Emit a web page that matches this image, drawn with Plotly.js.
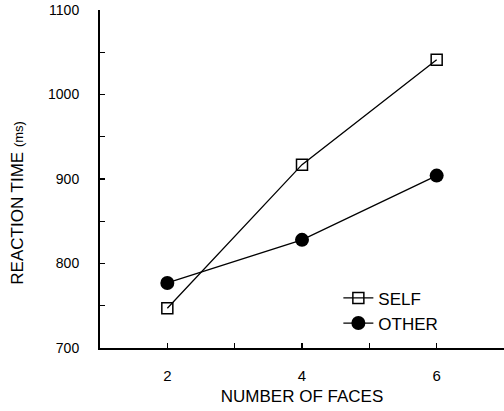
<!DOCTYPE html>
<html>
<head>
<meta charset="utf-8">
<script src="https://cdn.plot.ly/plotly-3.0.1.min.js"></script>
<style>html,body{margin:0;padding:0;background:#fff;}#chart{width:504px;height:411px;}</style>
</head>
<body>
<div id="chart"></div>
<script>
var faces = [2, 4, 6];
var selfRT = [747, 917, 1041];
var otherRT = [777, 828, 904];
var xTickVals = [2, 3, 4, 5, 6];
var xTickText = ['2', '', '4', '', '6'];
var yTickVals = [700, 750, 800, 850, 900, 950, 1000, 1050, 1100];
var yTickText = ['700', '', '800', '', '900', '', '1000', '', '1100'];

var FONT = 'Liberation Sans, Arial, sans-serif';

var traces = [
  {
    x: faces, y: selfRT, name: 'SELF', type: 'scatter', mode: 'lines+markers',
    line: {color: '#000', width: 1.3},
    marker: {symbol: 'square-open', size: 11, color: '#000', line: {width: 1.5, color: '#000'}}
  },
  {
    x: faces, y: otherRT, name: 'OTHER', type: 'scatter', mode: 'lines+markers',
    line: {color: '#000', width: 1.3},
    marker: {symbol: 'circle', size: 14, color: '#000'}
  }
];

var layout = {
  width: 504, height: 411,
  margin: {l: 100, r: 0, t: 10, b: 63},
  paper_bgcolor: '#fff', plot_bgcolor: '#fff',
  font: {family: FONT, color: '#000', size: 14},
  showlegend: true,
  legend: {
    x: 0.59, y: 0.2, xanchor: 'left', yanchor: 'top',
    bgcolor: 'rgba(0,0,0,0)', borderwidth: 0,
    font: {family: FONT, size: 17, color: '#000'},
    itemwidth: 30
  },
  xaxis: {
    range: [1, 7], showgrid: false, zeroline: false,
    showline: true, linecolor: '#000', linewidth: 2,
    ticks: 'inside', ticklen: 5, tickwidth: 1.3, tickcolor: '#000',
    tickvals: xTickVals, ticktext: xTickText,
    tickfont: {size: 15, family: FONT},
    ticklabelstandoff: 13,
    title: {text: 'NUMBER OF FACES', font: {size: 17, family: FONT}, standoff: 7}
  },
  yaxis: {
    range: [700, 1100], showgrid: false, zeroline: false,
    showline: true, linecolor: '#000', linewidth: 2,
    ticks: 'inside', ticklen: 5, tickwidth: 1.3, tickcolor: '#000',
    tickvals: yTickVals, ticktext: yTickText,
    tickfont: {size: 14, family: FONT},
    ticklabelstandoff: 16
  },
  annotations: [{
    text: 'REACTION TIME <span style="font-size:13px">(ms)</span>',
    xref: 'paper', yref: 'paper', x: -82 / 404, y: 0.43,
    xanchor: 'center', yanchor: 'middle', textangle: -90, showarrow: false,
    font: {size: 17, family: FONT, color: '#000'}
  }]
};

Plotly.newPlot('chart', traces, layout, {displayModeBar: false, staticPlot: true});
</script>
</body>
</html>
